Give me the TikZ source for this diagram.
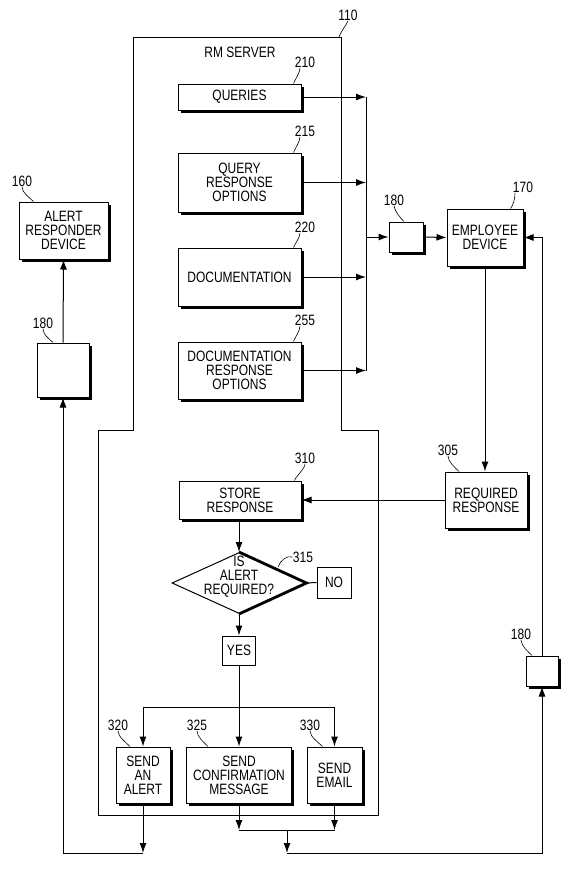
\documentclass[tikz,border=0pt]{standalone}
\usepackage{fontspec}
\setmainfont[FakeStretch=0.8]{Liberation Sans}
\usetikzlibrary{arrows.meta,shadows,shapes.geometric}
\begin{document}
\begin{tikzpicture}[x=1pt,y=-1pt,line width=1pt,
  >={Latex[length=10pt,width=7pt]},
  every node/.style={font=\fontsize{15}{14}\selectfont},
  box/.style={draw,fill=white,inner sep=0pt,align=center,
    drop shadow={shadow xshift=2.5pt,shadow yshift=-2.5pt,fill=black,opacity=1}},
  plainbox/.style={draw,fill=white,inner sep=0pt,align=center},
  lbl/.style={inner sep=0pt},
  lead/.style={line width=0.6pt}]
\useasboundingbox (0,0) rectangle (578,879);

% server outline
\draw (133,37) -- (341,37) -- (341,430) -- (378,430) -- (378,815)
      -- (98,815) -- (98,430) -- (133,430) -- cycle;
\node[lbl] (rm) at (240,52) {RM SERVER};
\node[lbl] (l110) at (348,15) {110};
\draw[lead] (l110.south) .. controls +(-2,5) and +(2,-6) .. (339,37);

% server content boxes
\node[box,minimum width=123pt,minimum height=26pt] (queries) at (239.5,97) {QUERIES};
\node[box,minimum width=123pt,minimum height=59pt] (qro) at (239.5,182.5) {QUERY\\RESPONSE\\OPTIONS};
\node[box,minimum width=123pt,minimum height=58pt] (doc) at (239.5,277) {DOCUMENTATION};
\node[box,minimum width=123pt,minimum height=57pt] (dro) at (239.5,370.5) {DOCUMENTATION\\RESPONSE\\OPTIONS};

\node[lbl] (l210) at (305,62) {210};
\node[lbl] (l215) at (305,131) {215};
\node[lbl] (l220) at (305,227) {220};
\node[lbl] (l255) at (305,320) {255};
\draw[lead] ([xshift=-5pt]l210.south) .. controls +(0,5) and +(2,-5) .. ([xshift=-8pt]queries.north east);
\draw[lead] ([xshift=-5pt]l215.south) .. controls +(0,5) and +(2,-5) .. ([xshift=-8pt]qro.north east);
\draw[lead] ([xshift=-5pt]l220.south) .. controls +(0,5) and +(2,-5) .. ([xshift=-8pt]doc.north east);
\draw[lead] ([xshift=-5pt]l255.south) .. controls +(0,5) and +(2,-5) .. ([xshift=-8pt]dro.north east);

% bus
\coordinate (bus) at (366,0);
\draw[->] (queries.east) -- (queries.east -| bus);
\draw[->] (qro.east) -- (qro.east -| bus);
\draw[->] (doc.east) -- (doc.east -| bus);
\draw[->] (dro.east) -- (dro.east -| bus);
\draw (queries.east -| bus) -- (dro.east -| bus);

% 180 top and employee device
\node[box,minimum width=34pt,minimum height=30pt] (b180a) at (406,237) {};
\node[lbl] (l180a) at (394,200) {180};
\draw[lead] (l180a.south) .. controls +(1,6) and +(-4,-4) .. ([xshift=-2pt]b180a.north);
\draw[->] (b180a.west -| bus) -- (b180a.west);
\node[box,minimum width=76pt,minimum height=57pt] (emp) at (485,237.5) {EMPLOYEE\\DEVICE};
\node[lbl] (l170) at (523,187) {170};
\draw[lead] ([xshift=-8pt]l170.south) .. controls +(0,6) and +(3,-4) .. ([xshift=-13pt]emp.north east);
\draw[->] (b180a.east) -- (emp.west);

% alert responder side
\node[box,minimum width=89pt,minimum height=57pt] (ard) at (63.5,230.5) {ALERT\\RESPONDER\\DEVICE};
\node[lbl] (l160) at (22,181) {160};
\draw[lead] (l160.south) .. controls +(0,6) and +(-4,-4) .. ([xshift=-30pt]ard.north);
\node[box,minimum width=52pt,minimum height=54pt] (b180l) at (63,370) {};
\node[lbl] (l180l) at (43,323) {180};
\draw[lead] (l180l.south) .. controls +(0,6) and +(-4,-4) .. ([xshift=-10pt]b180l.north);
\draw[->] (b180l.north) -- (ard.south);

% required response
\node[box,minimum width=82pt,minimum height=56pt] (req) at (486,500) {REQUIRED\\RESPONSE};
\node[lbl] (l305) at (448,450) {305};
\draw[lead] (l305.south) .. controls +(0,6) and +(-4,-4) .. ([xshift=-27pt]req.north);
\draw[->] (emp.south) -- (emp.south |- req.north);

% store response and decision
\node[box,minimum width=122pt,minimum height=38pt] (store) at (240,500) {STORE\\RESPONSE};
\node[lbl] (l310) at (305,458) {310};
\draw[lead] (l310.south) .. controls +(0,5) and +(2,-5) .. ([xshift=-7pt]store.north east);
\draw[->] (req.west) -- (store.east);

\node[diamond,draw,minimum width=134pt,minimum height=61pt,inner sep=0pt] (dia) at (239,583) {};
\draw[line width=2.8pt] (dia.north) -- (dia.east) -- (dia.south);
\node[lbl,align=center] (diat) at (239,577) {IS\\ALERT\\REQUIRED?};
\node[lbl] (l315) at (303,557) {315};
\draw[lead] (l315.west) .. controls +(-6,-2) and +(2,-6) .. (278,567);
\draw[->] (store.south -| dia.north) -- (dia.north);

\node[plainbox,minimum width=34pt,minimum height=31pt] (no) at (334,582.5) {NO};
\draw (dia.east) -- (no.west);
\node[plainbox,minimum width=33pt,minimum height=29pt] (yes) at (239,650.5) {YES};
\draw[->] (dia.south) -- (yes.north);

% send boxes
\coordinate (br) at (239,707);
\node[box,minimum width=54pt,minimum height=56pt] (alert) at (143,775) {SEND\\AN\\ALERT};
\node[box,minimum width=105pt,minimum height=56pt] (conf) at (239,775) {SEND\\CONFIRMATION\\MESSAGE};
\node[box,minimum width=55pt,minimum height=56pt] (email) at (334.5,775) {SEND\\EMAIL};
\node[lbl] (l320) at (118,725) {320};
\node[lbl] (l325) at (197,725) {325};
\node[lbl] (l330) at (310,725) {330};
\draw[lead] (l320.south) .. controls +(0,6) and +(-4,-4) .. ([xshift=-13pt]alert.north);
\draw[lead] (l325.south) .. controls +(0,6) and +(-4,-4) .. ([xshift=-31pt]conf.north);
\draw[lead] (l330.south) .. controls +(0,6) and +(-4,-4) .. ([xshift=-12pt]email.north);
\draw (yes.south) -- (br);
\draw[->] (br) -| (alert.north);
\draw[->] (br) -| (email.north);
\draw[->] (br) -- (conf.north);

% bottom return paths
\coordinate (ja) at (143,853);
\coordinate (jb) at (287,830);
\coordinate (jc) at (287,853);
\draw[->] (alert.south) -- (alert.south |- ja);
\draw[->] (alert.south |- ja) -| (b180l.south);
\draw[->] (conf.south) -- (conf.south |- jb);
\draw[->] (email.south) -- (email.south |- jb);
\draw (conf.south |- jb) -- (email.south |- jb);
\draw[->] (jb) -- (jc);

\node[box,minimum width=32pt,minimum height=30pt] (b180r) at (542,671) {};
\node[lbl] (l180r) at (521,634) {180};
\draw[lead] (l180r.south) .. controls +(0,6) and +(-4,-4) .. ([xshift=-10pt]b180r.north);
\draw[->] (jc) -| (b180r.south);
\draw[->] (b180r.north) |- (emp.east);
\end{tikzpicture}
\end{document}
